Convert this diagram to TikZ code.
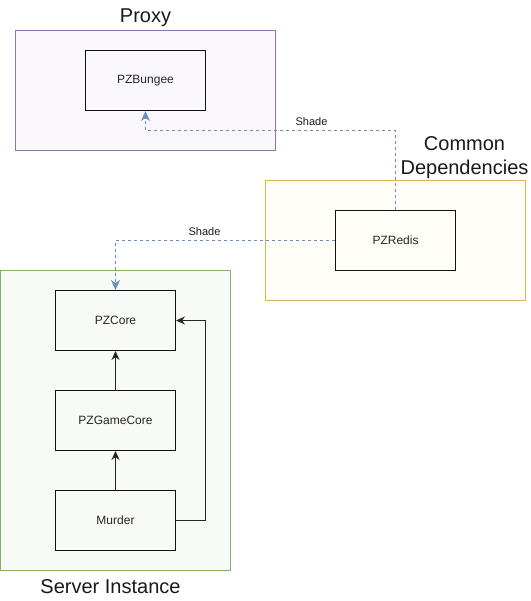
\documentclass[tikz,border=0pt]{standalone}
\usepackage{fontspec}
\setmainfont{Liberation Sans}
\usetikzlibrary{arrows.meta}
\definecolor{proxyline}{HTML}{9673A6}
\definecolor{proxyfill}{HTML}{FAF8FC}
\definecolor{comline}{HTML}{D6B656}
\definecolor{comfill}{HTML}{FFFDF7}
\definecolor{srvline}{HTML}{82B366}
\definecolor{srvfill}{HTML}{F8FAF7}
\definecolor{shadeline}{HTML}{6C8EBF}
\definecolor{boxline}{HTML}{111111}
\tikzset{
  box/.style={draw=boxline, line width=1pt, minimum width=120pt, minimum height=60pt, inner sep=0pt, font=\fontsize{12}{14}\selectfont, text=black!85},
  group/.style={line width=1pt, inner sep=0pt},
  title/.style={font=\fontsize{20}{24}\selectfont, text=black!90, align=center},
  dep/.style={draw=black!85, line width=1pt, -{Stealth[length=9pt,width=8pt,inset=3pt]}},
  shadeedge/.style={draw=shadeline, line width=1pt, dash pattern=on 3pt off 3pt, -{Stealth[length=10pt,width=9pt,inset=3pt,fill=shadeline]}},
  shadelbl/.style={font=\fontsize{11}{13}\selectfont, text=black!90, inner sep=1pt}
}
\begin{document}
\begin{tikzpicture}[x=1pt,y=-1pt]
\useasboundingbox (-0.5,-0.5) rectangle (529.5,600.5);
% groups
\node[group, draw=proxyline, fill=proxyfill, minimum width=260pt, minimum height=120pt] (proxy) at (145,90) {};
\node[group, draw=comline, fill=comfill, minimum width=260pt, minimum height=120pt] (common) at (395,240) {};
\node[group, draw=srvline, fill=srvfill, minimum width=230pt, minimum height=300pt] (server) at (115,420) {};
% titles
\node[title] (tproxy) at (145,17) {Proxy};
\node[title, text width=140pt] (tcommon) at (464,157) {Common\\[0pt]Dependencies};
\node[title] (tserver) at (110,586) {Server Instance};
% boxes
\node[box, fill=proxyfill] (bungee) at (145,80) {PZBungee};
\node[box, fill=comfill] (redis) at (395,240) {PZRedis};
\node[box, fill=srvfill] (core) at (115,320) {PZCore};
\node[box, fill=srvfill] (gamecore) at (115,420) {PZGameCore};
\node[box, fill=srvfill] (murder) at (115,520) {Murder};
% coordinates
\coordinate (c1) at (395,130);
\coordinate (c2) at (145,130);
\coordinate (c3) at (115,240);
\coordinate (c4) at (205,520);
\coordinate (c5) at (205,320);
% edges
\draw[dep] (gamecore.north) -- (core.south);
\draw[dep] (murder.north) -- (gamecore.south);
\draw[dep] (murder.east) -- (c4) -- (c5) -- (core.east);
\draw[shadeedge] (redis.north) -- (c1) -- (c2) -- (bungee.south);
\draw[shadeedge] (redis.west) -- (c3) -- (core.north);
\node[shadelbl] (l1) at (311,121) {Shade};
\node[shadelbl] (l2) at (204,231) {Shade};
\end{tikzpicture}
\end{document}
